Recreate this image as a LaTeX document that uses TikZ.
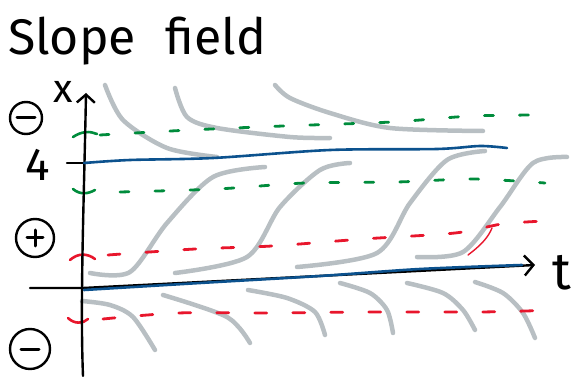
\documentclass[tikz,border=0pt]{standalone}
\usepackage{fontspec}
\setmainfont{Fira Sans}
\usetikzlibrary{arrows.meta}
\definecolor{slopegray}{RGB}{172,180,184}
\definecolor{solblue}{RGB}{12,82,142}
\definecolor{eqgreen}{RGB}{0,140,60}
\definecolor{eqred}{RGB}{232,22,44}
\tikzset{
  slope/.style={slopegray, line width=4.5pt, line cap=round, opacity=0.85},
  solution/.style={solblue, line width=2.6pt, line cap=round},
  axis/.style={black, line width=2.4pt, line cap=round},
  greendash/.style={eqgreen, line width=2.8pt, line cap=round, dash pattern=on 9pt off 26pt},
  reddash/.style={eqred, line width=2.8pt, line cap=round, dash pattern=on 12pt off 26pt},
  sign/.style={draw, circle, line width=2.4pt, inner sep=0pt},
  minussign/.style={sign, path picture={
      \draw[line width=3pt, line cap=round] ([xshift=-9pt]path picture bounding box.center) -- ([xshift=9pt]path picture bounding box.center);}},
  plussign/.style={sign, path picture={
      \draw[line width=3pt, line cap=round] ([xshift=-8pt]path picture bounding box.center) -- ([xshift=8pt]path picture bounding box.center);
      \draw[line width=3pt, line cap=round] ([yshift=-8pt]path picture bounding box.center) -- ([yshift=8pt]path picture bounding box.center);}},
  handtext/.style={font=\fontsize{#1}{#1}\selectfont, inner sep=0pt},
}
\begin{document}
\begin{tikzpicture}[x=1pt, y=-1pt]
    \useasboundingbox (0,0) rectangle (579,377);
    % title
    \node[handtext=50, anchor=base west] (title) at (8,55) {Slope\hspace{30pt}field};
    % slope marks above x=4
    \draw[slope] plot[smooth] coordinates {(105,85) (123,120) (167,148) (217,157)};
    \draw[slope] plot[smooth] coordinates {(175,88) (187,117) (217,128) (290,137) (330,138)};
    \draw[slope] plot[smooth] coordinates {(275,85) (290,98) (330,113) (390,128) (483,131)};
    % slope marks between 0 and 4
    \draw[slope] plot[smooth] coordinates {(90,273) (130,272) (167,223) (213,177) (265,167)};
    \draw[slope] plot[smooth] coordinates {(175,273) (247,257) (280,207) (320,170) (350,163)};
    \draw[slope] plot[smooth] coordinates {(297,267) (377,253) (410,203) (447,160) (485,151)};
    \draw[slope] plot[smooth] coordinates {(417,257) (463,252) (500,207) (533,163) (567,157)};
    % slope marks below 0
    \draw[slope] plot[smooth] coordinates {(82,301) (110,305) (133,317) (155,350)};
    \draw[slope] plot[smooth] coordinates {(163,295) (227,317) (250,343)};
    \draw[slope] plot[smooth] coordinates {(248,290) (287,298) (315,312) (325,335)};
    \draw[slope] plot[smooth] coordinates {(340,283) (370,293) (387,310) (393,333)};
    \draw[slope] plot[smooth] coordinates {(407,283) (443,293) (463,310) (475,330)};
    \draw[slope] plot[smooth] coordinates {(475,282) (503,293) (523,313) (535,338)};
    % dashed guide lines
    \draw[greendash] plot[smooth] coordinates {(100,135) (190,130) (283,126) (392,122) (472,116) (545,115)};
    \draw[greendash] plot[smooth] coordinates {(120,192) (217,189) (305,183) (397,182) (473,179) (545,183)};
    \draw[reddash] plot[smooth] coordinates {(108,255) (195,249) (272,246) (363,239) (455,233) (502,224) (545,221)};
    \draw[reddash] plot[smooth] coordinates {(103,319) (178,313) (270,313) (365,312) (480,312) (558,310)};
    \draw[eqgreen, line width=2.6pt, line cap=round] (73,137) .. controls (82,131) and (90,131) .. (97,134);
    \draw[eqgreen, line width=2.6pt, line cap=round] (73,189) .. controls (80,195) and (88,194) .. (95,190);
    \draw[eqred, line width=2.6pt, line cap=round] (70,260) .. controls (78,253) and (87,253) .. (95,259);
    \draw[eqred, line width=2.6pt, line cap=round] (68,318) .. controls (74,324) and (83,324) .. (88,319);
    \draw[eqred, line width=1.4pt, line cap=round] (468,255) .. controls (480,246) and (488,238) .. (492,228);
    % axes
    \coordinate (origin) at (83,288);
    \coordinate (xtop) at (86,93);
    \coordinate (xbottom) at (83,376);
    \coordinate (tleft) at (30,288);
    \coordinate (tright) at (535,265);
    \draw[axis, -{Straight Barb[length=8pt, width=18pt, line width=2.4pt]}] (xbottom) .. controls (80,300) and (84,200) .. (xtop);
    \draw[axis, -{Straight Barb[length=9pt, width=20pt, line width=2.4pt]}] (tleft) -- (origin) -- (tright);
    \draw[axis] (67,163) -- (84,163);
    % solution curves
    \draw[solution] plot[smooth] coordinates {(84,163) (130,160) (213,158) (330,150) (437,149) (480,146) (507,148)};
    \draw[solution] plot[smooth] coordinates {(84,290) (200,283) (320,276) (420,269) (522,265)};
    % labels
    \node[handtext=40] (xlabel) at (63,92) {x};
    \node[handtext=52, anchor=base] (tlabel) at (562,290) {t};
    \node[handtext=46] (four) at (38,165) {4};
    \node[minussign, minimum size=32pt] (signtop) at (26,118) {};
    \node[plussign, minimum size=38pt] (signmid) at (35,238) {};
    \node[minussign, minimum size=40pt] (signlow) at (30,349) {};
\end{tikzpicture}
\end{document}
